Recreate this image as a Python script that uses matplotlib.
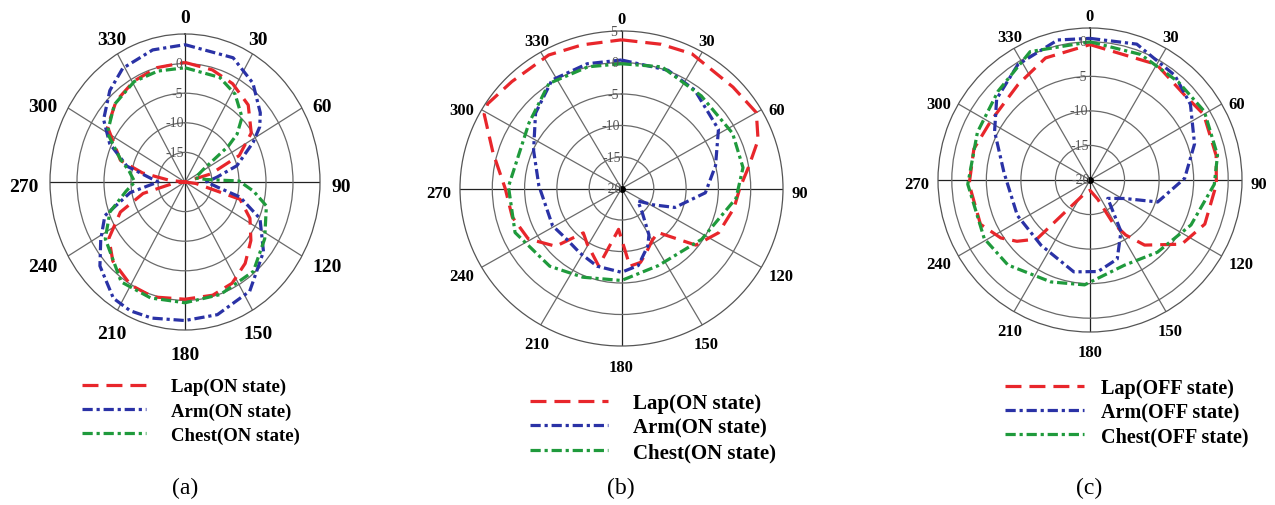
import numpy as np
import matplotlib.pyplot as plt

plt.rcParams['font.family'] = ['Liberation Serif', 'DejaVu Serif']

# ---- data (angle in deg, gain in dB) ----
angle_labels = ['0', '30', '60', '90', '120', '150', '180', '210', '240', '270', '300', '330']

# (a) ON state
lap_a_deg = [0, 15, 28, 42, 56, 66, 74, 90, 97, 106, 117, 129, 141, 153, 165, 180, 197, 210, 225, 236, 247, 256, 265, 270, 276, 281, 287, 303, 317, 331, 345]
lap_a_db = [0.2, -0.4, -1.2, -2.5, -5.2, -9, -15, -20, -18, -9.4, -6.5, -4.3, -2.3, -0.8, -0.2, -0.2, 0.3, 0.1, -1.1, -3, -7, -12, -18, -20, -17, -12, -7.5, -2.9, -1.3, -0.5, 0]
arm_a_deg = [0, 23, 37, 50, 56, 62, 74, 82, 90, 98, 104, 114, 129, 147, 165, 180, 195, 205, 214, 228, 238, 249, 260, 270, 284, 295, 305, 318, 329, 345]
arm_a_db = [3.2, 2.8, 0.9, -1.8, -3.3, -5.7, -10, -14, -16, -14, -9.5, -4.8, -1.3, 2, 3.2, 3.4, 3.8, 4, 3.7, 1.2, -1.6, -4.1, -9.7, -15, -8.9, -4.6, -1.6, 0.8, 2.4, 3.1]
chest_a_deg = [0, 20, 32, 44, 50, 53, 58, 70, 84, 89, 97, 105, 123, 140, 161, 180, 198, 215, 237, 250, 262, 270, 280, 288, 300, 315, 331, 345]
chest_a_db = [-0.7, -1.2, -2.5, -4.8, -7.4, -10, -16, -18, -16, -10, -7.2, -4.4, -2.4, -0.3, 0.1, 0.4, 0.6, 0.6, -2.4, -5.2, -9, -10.7, -9.5, -7.4, -3.4, -1.5, -0.6, -0.6]

# (b) ON state
lap_b_deg = [0, 15, 27, 47, 60, 70, 80, 90, 100, 115, 128, 141, 150, 160, 166, 174, 184, 196, 211, 220, 228, 241, 255, 270, 286, 299, 303, 315, 332, 345]
lap_b_db = [3.6, 3.7, 4.0, 3.6, 4.1, 2.5, 0.0, -1.7, -2.3, -3.4, -5.4, -11, -10.5, -9, -7.9, -7.6, -13.5, -7.2, -9.7, -10.8, -6.3, -3.5, -2.5, -2, 0.7, 4.3, 4.7, 4, 4, 3.6]
arm_b_deg = [0, 21, 36, 58, 76, 93, 110, 118, 128, 140, 150, 156, 168, 180, 197, 212, 227, 241, 272, 294, 312, 328, 345]
arm_b_db = [0.4, 0.1, -0.7, -2.3, -5, -7, -11.2, -14.5, -16.8, -15, -11.5, -10, -7.5, -6.7, -7.1, -7.9, -8.3, -7.8, -7.2, -5.1, -2.1, 0.3, 0.5]
chest_b_deg = [0, 18, 40, 63, 80, 95, 123, 155, 180, 203, 222, 247, 271, 306, 326, 345]
chest_b_db = [-0.2, 0.3, -0.8, -0.7, -0.9, -2.2, -5.2, -6.5, -5.4, -4.7, -3.4, -2.1, -2.5, -2.3, 0.1, 0]

# (c) OFF state
lap_c_deg = [0, 30, 48, 60, 79, 92, 111, 125, 140, 147, 152, 158, 180, 200, 218, 222, 230, 237, 248, 268, 285, 301, 323, 340]
lap_c_db = [-0.4, -0.7, -1.6, -1, -1.4, -1.7, -2.2, -3.8, -7.7, -10.5, -13, -17, -18.5, -18, -14, -8.5, -6.2, -4.6, -2.9, -2.5, -2.6, -3.3, -2.7, -1.2]
arm_c_deg = [0, 19, 39, 53, 71, 89, 108, 118, 136, 149, 161, 175, 190, 217, 244, 275, 297, 311, 328, 347]
arm_c_db = [0.5, 0.8, -0.5, -1.8, -4, -6.3, -9.7, -14.3, -16.3, -11.3, -7.9, -6.7, -6.5, -8.2, -8.3, -7.5, -4.5, -2.1, -0.3, 0.8]
chest_c_deg = [0, 22, 42, 59, 79, 92, 114, 137, 158, 183, 201, 224, 241, 268, 293, 314, 335]
chest_c_db = [0, -0.4, -0.9, -0.7, -1.2, -2, -4, -5.7, -6.7, -4.8, -4.2, -2.9, -2.5, -2.3, -2.3, -1.5, 0.5]

RED = '#e8262b'
BLUE = '#2a32a6'
GREEN = '#1f9a3c'
W, H = 1275, 506


def closed(deg, db):
    t = np.radians(np.append(deg, deg[0] + 360))
    return t, np.append(db, db[0])


def polar_panel(rect, rmax, rlabels, tick_fs, lab_pad, series, leg, state, pole=False):
    l, r, t, b = rect
    ax = fig.add_axes([l / W, 1 - b / H, (r - l) / W, (b - t) / H], projection='polar')
    ax.set_aspect('auto')
    ax.set_theta_zero_location('N')
    ax.set_theta_direction(-1)
    ax.set_ylim(-20, rmax)
    ax.set_rgrids([-15, -10, -5, 0], labels=[''] * 4)
    ax.set_thetagrids(range(0, 360, 30), [''] * 12)
    ax.grid(True, color='#6a6a6a', linewidth=0.9)
    for i, gl in enumerate(ax.xaxis.get_gridlines()):
        if i % 3 == 0:
            gl.set_color('#222222')
    ax.spines['polar'].set_color('#555555')
    ax.spines['polar'].set_linewidth(0.9)
    if pole:
        ax.plot([0.5], [0.5], 'o', color='black', markersize=4, transform=ax.transAxes)

    # angle labels just outside the outer ring
    for a, s in zip(range(0, 360, 30), angle_labels):
        sa, ca = np.sin(np.radians(a)), np.cos(np.radians(a))
        ha = 'left' if sa > 0.6 else ('right' if sa < -0.6 else 'center')
        va = 'bottom' if ca > 0.6 else ('top' if ca < -0.6 else 'center')
        ax.annotate(s, xy=(np.radians(a), rmax), xytext=(lab_pad * sa, lab_pad * ca - 3),
                    textcoords='offset points', ha=ha, va=va, fontsize=tick_fs,
                    fontweight='bold', annotation_clip=False)
    # dB labels left of the 0 deg spoke
    for val in rlabels:
        ax.text(np.radians(-1.5), val, str(val), ha='right', va='center',
                fontsize=10, color='#555555')

    names = ['Lap', 'Arm', 'Chest']
    colors = [RED, BLUE, GREEN]
    dashes = [(5, 2.5), (3.2, 1.2, 1, 1.2), (3.2, 1.2, 1, 1.2)]
    handles = []
    for (deg, db), name, c, d in zip(series, names, colors, dashes):
        th, rr = closed(deg, db)
        ln, = ax.plot(th, rr, color=c, linewidth=2.3, dashes=d,
                      label='%s(%s state)' % (name, state))
        handles.append(ln)

    lx, ly, fs, hl, hp, ls = leg
    fig.legend(handles=handles, loc='upper left',
               bbox_to_anchor=(lx / W, 1 - ly / H),
               frameon=False, borderpad=0, borderaxespad=0,
               handlelength=hl, handletextpad=hp, labelspacing=ls,
               prop={'family': 'Liberation Serif', 'weight': 'bold', 'size': fs})
    return ax


fig = plt.figure(figsize=(12.75, 5.06), dpi=100)

polar_panel((50, 320, 35, 331), 5, [-15, -10, -5, 0], 14, 8.5,
            [(lap_a_deg, lap_a_db), (arm_a_deg, arm_a_db), (chest_a_deg, chest_a_db)],
            (82, 379, 13.5, 3.4, 1.33, 0.37), 'ON')
polar_panel((460, 783, 32, 347), 5, [-20, -15, -10, -5, 0, 5], 12, 6,
            [(lap_b_deg, lap_b_db), (arm_b_deg, arm_b_db), (chest_b_deg, chest_b_db)],
            (530, 394, 15, 3.75, 1.2, 0.22), 'ON', pole=True)
polar_panel((938, 1242, 29, 333), 2, [-20, -15, -10, -5, 0], 12, 6,
            [(lap_c_deg, lap_c_db), (arm_c_deg, arm_c_db), (chest_c_deg, chest_c_db)],
            (1005, 379, 14.5, 3.9, 0.85, 0.21), 'OFF', pole=True)

for x, s in [(185, '(a)'), (621, '(b)'), (1089, '(c)')]:
    fig.text(x / W, 1 - 488 / H, s, ha='center', va='center', fontsize=17)

fig.savefig('out.png', dpi=100)
